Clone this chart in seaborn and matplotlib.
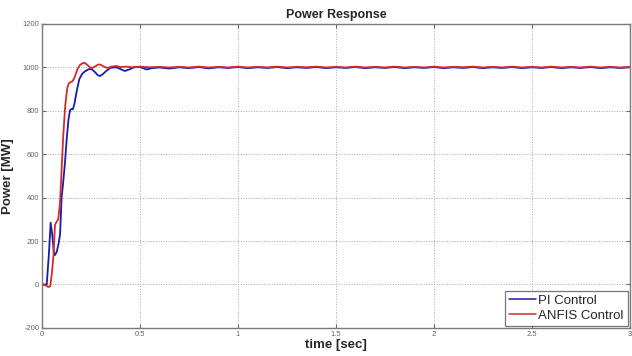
import numpy as np
import pandas as pd
import matplotlib
matplotlib.use("Agg")
import matplotlib.pyplot as plt
import seaborn as sns

# ---- data ----
t_pi = [0.0, 0.024, 0.035, 0.044, 0.052, 0.06, 0.066, 0.075, 0.085, 0.092, 0.1, 0.108,
        0.117, 0.126, 0.135, 0.143, 0.15, 0.157, 0.165, 0.175, 0.19, 0.205, 0.22, 0.24,
        0.255, 0.27, 0.285, 0.296, 0.31, 0.33, 0.35, 0.38, 0.40, 0.423, 0.445, 0.47,
        0.50, 0.534, 0.56, 0.60, 0.65, 0.70, 0.75, 0.80, 0.85, 0.90, 0.95, 1.00, 1.05,
        1.10, 1.15, 1.20, 1.25, 1.30, 1.35, 1.40, 1.45, 1.50, 1.55, 1.60, 1.65, 1.70,
        1.75, 1.80, 1.85, 1.90, 1.95, 2.00, 2.05, 2.10, 2.15, 2.20, 2.25, 2.30, 2.35,
        2.40, 2.45, 2.50, 2.55, 2.60, 2.65, 2.70, 2.75, 2.80, 2.85, 2.90, 2.95, 3.00]
p_pi = [0, 0, 140, 284, 230, 150, 135, 150, 190, 230, 400, 470,
        560, 670, 760, 802, 808, 806, 830, 880, 945, 970, 982, 992,
        990, 978, 963, 960, 968, 985, 998, 1000, 992, 983, 990, 1000,
        1001, 990, 996, 999, 994, 1000, 996, 1001, 995, 1000, 997, 1001, 996,
        1000, 997, 1001, 996, 1000, 997, 1001, 996, 1000, 997, 1001, 996, 1000,
        997, 1001, 996, 1000, 997, 1001, 996, 1000, 997, 1001, 996, 1000, 997,
        1001, 996, 1000, 997, 1001, 996, 1000, 997, 1001, 996, 1000, 997, 1000]

t_anfis = [0.0, 0.02, 0.032, 0.042, 0.05, 0.058, 0.066, 0.075, 0.083, 0.092, 0.1,
           0.108, 0.118, 0.128, 0.136, 0.145, 0.155, 0.165, 0.18, 0.195, 0.21, 0.22,
           0.232, 0.245, 0.255, 0.27, 0.285, 0.296, 0.31, 0.325, 0.337, 0.355, 0.38,
           0.40, 0.43, 0.46, 0.50, 0.55, 0.60, 0.65, 0.70, 0.75, 0.80, 0.85, 0.90, 0.95,
           1.00, 1.05, 1.10, 1.15, 1.20, 1.25, 1.30, 1.35, 1.40, 1.45, 1.50, 1.55, 1.60,
           1.65, 1.70, 1.75, 1.80, 1.85, 1.90, 1.95, 2.00, 2.05, 2.10, 2.15, 2.20, 2.25,
           2.30, 2.35, 2.40, 2.45, 2.50, 2.55, 2.60, 2.65, 2.70, 2.75, 2.80, 2.85, 2.90,
           2.95, 3.00]
p_anfis = [0, -5, -12, -8, 50, 127, 273, 290, 300, 380, 530,
           680, 820, 900, 925, 932, 935, 950, 990, 1012, 1020, 1019,
           1010, 1000, 997, 1003, 1012, 1013, 1006, 999, 998, 1003, 1006,
           1001, 1003, 1000, 1003, 1000, 1002, 999, 1002, 999, 1003, 999, 1002, 999,
           1003, 999, 1002, 999, 1003, 999, 1002, 1000, 1003, 999, 1002, 999, 1003,
           999, 1002, 999, 1003, 999, 1002, 999, 1003, 999, 1002, 1000, 1003, 999,
           1002, 999, 1003, 999, 1002, 999, 1003, 999, 1002, 999, 1003, 999, 1002,
           999, 1001]

series_names = ["PI Control", "ANFIS Control"]
x_ticks = [0, 0.5, 1, 1.5, 2, 2.5, 3]
x_tick_labels = ["0", "0.5", "1", "1.5", "2", "2.5", "3"]
y_ticks = [-200, 0, 200, 400, 600, 800, 1000, 1200]

df = pd.concat([
    pd.DataFrame({"time": t_pi, "power": p_pi, "ctrl": series_names[0]}),
    pd.DataFrame({"time": t_anfis, "power": p_anfis, "ctrl": series_names[1]}),
], ignore_index=True)

sns.set_theme(style="white")
plt.rcParams["font.family"] = ["Liberation Sans", "DejaVu Sans"]
plt.rcParams["axes.unicode_minus"] = False

fig = plt.figure(figsize=(6.32, 3.56), dpi=100)
ax = fig.add_axes([0.0665, 0.079, 0.93, 0.854])

palette = {series_names[0]: "#1c1ca8", series_names[1]: "#d42a2a"}
sns.lineplot(data=df, x="time", y="power", hue="ctrl", palette=palette,
             linewidth=1.3, ax=ax, sort=False, estimator=None)

ax.set_xlim(0, 3)
ax.set_ylim(-200, 1200)
ax.set_xticks(x_ticks)
ax.set_xticklabels(x_tick_labels)
ax.set_yticks(y_ticks)
ax.tick_params(axis="both", labelsize=5.5, colors="#666666", direction="in",
               length=3, width=0.8, top=True, right=True, bottom=True, left=True,
               pad=2)
ax.grid(True, linestyle=":", color="#a8a8a8", linewidth=0.7)
for s in ax.spines.values():
    s.set_color("#7a7a7a")
    s.set_linewidth(1.0)

ax.set_title("Power Response", fontsize=9, fontweight="bold", pad=4)
ax.set_xlabel("time [sec]", fontsize=9.5, fontweight="bold", labelpad=1)
ax.set_ylabel("Power [MW]", fontsize=9.5, fontweight="bold", labelpad=6)

leg = ax.legend(loc="lower right", fontsize=9.5, frameon=True, fancybox=False,
                handlelength=2.0, handletextpad=0.2, borderpad=0.3,
                labelspacing=0.2, borderaxespad=0.15)
leg.get_frame().set_edgecolor("#555555")
leg.get_frame().set_linewidth(0.9)
for line in leg.get_lines():
    line.set_linewidth(1.1)

fig.savefig("out.png", dpi=100)
